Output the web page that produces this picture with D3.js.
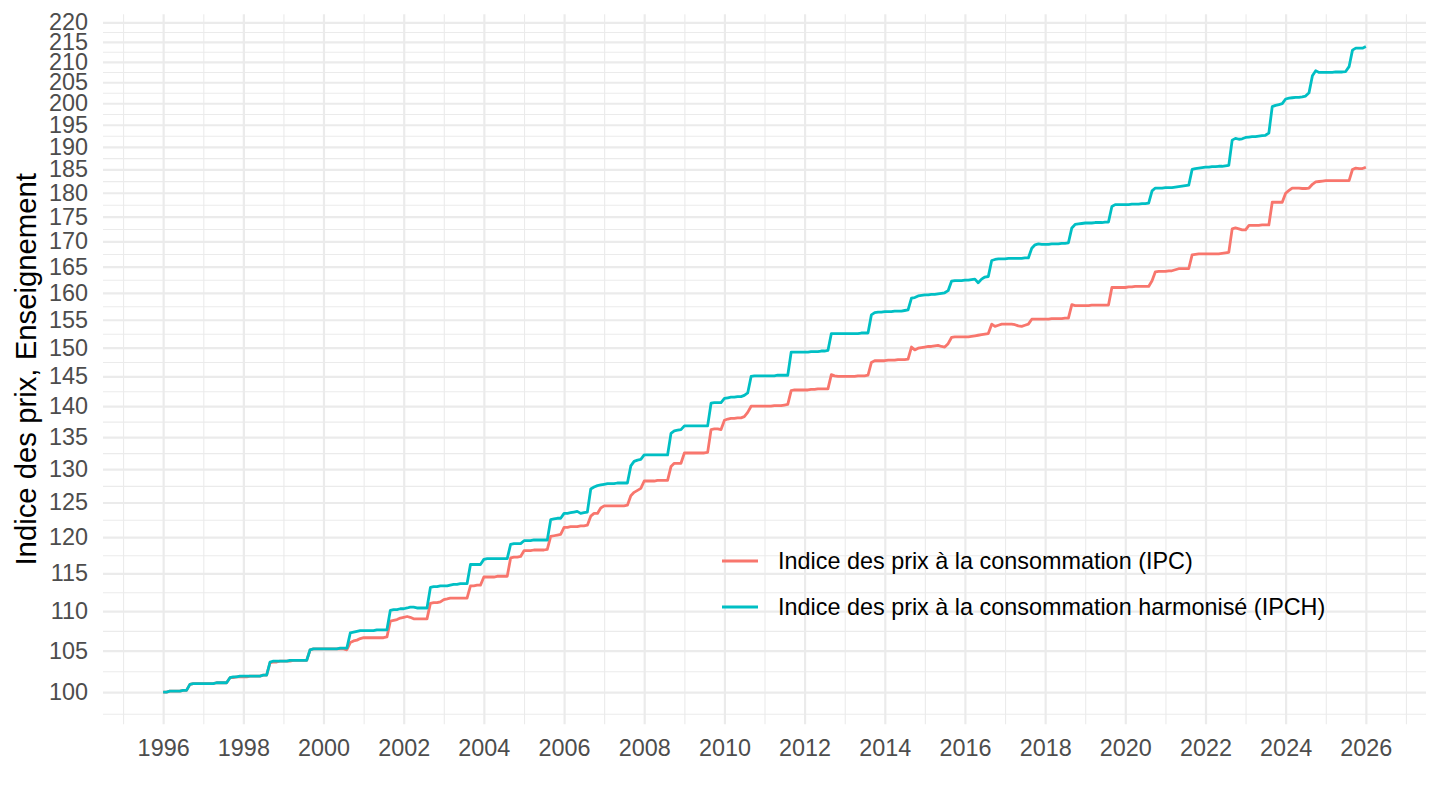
<!DOCTYPE html>
<html>
<head>
<meta charset="utf-8">
<script src="https://cdn.jsdelivr.net/npm/d3@7"></script>
<style>
  html, body { margin: 0; padding: 0; background: #ffffff; }
  svg { display: block; }
  text { font-family: "Liberation Sans", Arial, Helvetica, sans-serif; }
</style>
</head>
<body>
<svg id="chart" width="1440" height="810"></svg>
<script>
// ---------------- DATA ----------------
const startYear = 1996;               // first observation: January 1996 (monthly series)
const seriesNames = [
  "Indice des prix à la consommation (IPC)",
  "Indice des prix à la consommation harmonisé (IPCH)"
];
const seriesColors = ["#F8766D", "#00BFC4"];

// IPC, monthly, Jan 1996 -> Jan 2026 (one row per year)
const ipcValues = [
  100.0, 100.0, 100.1, 100.1, 100.1, 100.1, 100.2, 100.2, 100.9, 101.0, 101.0, 101.0,
  101.0, 101.0, 101.0, 101.0, 101.1, 101.1, 101.1, 101.1, 101.7, 101.7, 101.8, 101.8,
  101.8, 101.8, 101.9, 101.9, 101.9, 101.9, 102.0, 102.0, 103.5, 103.6, 103.6, 103.7,
  103.7, 103.7, 103.7, 103.8, 103.8, 103.8, 103.8, 103.8, 105.1, 105.2, 105.2, 105.2,
  105.2, 105.2, 105.2, 105.2, 105.2, 105.2, 105.2, 105.1, 106.0, 106.2, 106.3, 106.5,
  106.6, 106.6, 106.6, 106.6, 106.6, 106.6, 106.6, 106.7, 108.7, 108.8, 108.9, 109.1,
  109.2, 109.3, 109.2, 109.0, 109.0, 109.0, 109.0, 109.0, 111.0, 111.1, 111.1, 111.2,
  111.5, 111.6, 111.7, 111.7, 111.7, 111.7, 111.7, 111.7, 113.3, 113.3, 113.4, 113.4,
  114.5, 114.5, 114.5, 114.5, 114.6, 114.6, 114.6, 114.6, 117.1, 117.2, 117.2, 117.3,
  118.1, 118.1, 118.1, 118.2, 118.2, 118.2, 118.2, 118.3, 120.1, 120.2, 120.3, 120.4,
  121.4, 121.4, 121.5, 121.5, 121.5, 121.6, 121.6, 121.7, 123.0, 123.4, 123.4, 124.2,
  124.5, 124.5, 124.5, 124.5, 124.5, 124.5, 124.5, 124.6, 126.0, 126.5, 126.8, 127.1,
  128.2, 128.2, 128.2, 128.2, 128.3, 128.3, 128.3, 128.3, 130.4, 130.9, 130.9, 130.9,
  132.5, 132.5, 132.5, 132.5, 132.5, 132.5, 132.5, 132.6, 136.2, 136.3, 136.3, 136.2,
  137.7, 137.9, 138.0, 138.0, 138.1, 138.1, 138.3, 139.0, 140.0, 140.0, 140.0, 140.0,
  140.0, 140.0, 140.0, 140.1, 140.1, 140.1, 140.2, 140.3, 142.6, 142.7, 142.7, 142.7,
  142.7, 142.7, 142.8, 142.8, 142.9, 142.9, 142.9, 142.9, 145.3, 145.1, 145.0, 145.0,
  145.0, 145.0, 145.0, 145.0, 145.1, 145.1, 145.1, 145.2, 147.4, 147.7, 147.7, 147.7,
  147.7, 147.8, 147.8, 147.8, 147.9, 147.9, 147.9, 148.0, 150.1, 149.6, 149.9, 150.0,
  150.1, 150.2, 150.2, 150.3, 150.4, 150.2, 150.1, 150.7, 151.8, 151.9, 151.9, 151.9,
  151.9, 151.9, 152.0, 152.1, 152.2, 152.3, 152.4, 152.5, 154.2, 153.8, 154.0, 154.2,
  154.2, 154.2, 154.2, 154.1, 153.9, 153.8, 154.0, 154.2, 155.1, 155.1, 155.1, 155.1,
  155.1, 155.1, 155.2, 155.2, 155.2, 155.2, 155.3, 155.3, 157.8, 157.6, 157.6, 157.6,
  157.6, 157.6, 157.7, 157.7, 157.7, 157.7, 157.7, 157.7, 161.0, 161.0, 161.0, 161.0,
  161.0, 161.1, 161.1, 161.2, 161.2, 161.2, 161.2, 161.2, 162.3, 164.0, 164.1, 164.1,
  164.1, 164.2, 164.2, 164.4, 164.6, 164.6, 164.6, 164.6, 167.3, 167.4, 167.5, 167.5,
  167.5, 167.5, 167.5, 167.5, 167.5, 167.6, 167.7, 167.8, 172.5, 172.7, 172.5, 172.3,
  172.3, 173.2, 173.2, 173.2, 173.2, 173.3, 173.3, 173.3, 178.0, 178.0, 178.0, 178.0,
  179.9, 180.5, 181.0, 181.0, 181.0, 180.9, 180.9, 181.0, 181.8, 182.3, 182.4, 182.5,
  182.6, 182.6, 182.6, 182.6, 182.6, 182.6, 182.6, 182.6, 185.0, 185.3, 185.2, 185.2,
  185.5
];

// IPCH, monthly, Jan 1996 -> Jan 2026 (one row per year)
const ipchValues = [
  100.0, 100.0, 100.1, 100.1, 100.1, 100.1, 100.2, 100.2, 100.9, 101.0, 101.0, 101.0,
  101.0, 101.0, 101.0, 101.0, 101.1, 101.1, 101.1, 101.1, 101.7, 101.8, 101.8, 101.9,
  101.9, 101.9, 101.9, 101.9, 101.9, 101.9, 102.0, 102.0, 103.6, 103.7, 103.7, 103.7,
  103.7, 103.7, 103.8, 103.8, 103.8, 103.8, 103.8, 103.8, 105.1, 105.2, 105.2, 105.2,
  105.2, 105.2, 105.2, 105.2, 105.2, 105.3, 105.3, 105.3, 107.2, 107.3, 107.4, 107.5,
  107.5, 107.5, 107.5, 107.5, 107.6, 107.6, 107.6, 107.6, 110.1, 110.2, 110.2, 110.3,
  110.3, 110.4, 110.5, 110.5, 110.4, 110.4, 110.4, 110.4, 113.1, 113.2, 113.2, 113.3,
  113.3, 113.3, 113.4, 113.5, 113.5, 113.6, 113.6, 113.6, 116.2, 116.2, 116.2, 116.2,
  116.9, 117.0, 117.0, 117.0, 117.0, 117.0, 117.0, 117.0, 119.0, 119.1, 119.1, 119.1,
  119.5, 119.5, 119.5, 119.6, 119.6, 119.6, 119.6, 119.6, 122.5, 122.6, 122.7, 122.7,
  123.4, 123.4, 123.5, 123.6, 123.7, 123.4, 123.5, 123.6, 127.0, 127.3, 127.5, 127.6,
  127.7, 127.8, 127.8, 127.8, 127.9, 127.9, 127.9, 127.9, 130.5, 131.2, 131.4, 131.5,
  132.2, 132.2, 132.2, 132.2, 132.2, 132.2, 132.2, 132.2, 135.6, 136.0, 136.1, 136.2,
  136.8, 136.8, 136.8, 136.8, 136.8, 136.8, 136.8, 136.8, 140.5, 140.6, 140.6, 140.6,
  141.3, 141.4, 141.5, 141.5, 141.6, 141.6, 141.8, 142.2, 145.0, 145.1, 145.1, 145.1,
  145.1, 145.1, 145.1, 145.1, 145.2, 145.2, 145.2, 145.2, 149.2, 149.2, 149.2, 149.2,
  149.2, 149.2, 149.3, 149.3, 149.3, 149.4, 149.4, 149.5, 152.5, 152.5, 152.5, 152.5,
  152.5, 152.5, 152.5, 152.5, 152.5, 152.6, 152.6, 152.6, 155.9, 156.3, 156.4, 156.4,
  156.5, 156.5, 156.5, 156.6, 156.6, 156.6, 156.7, 156.8, 159.0, 159.1, 159.4, 159.5,
  159.6, 159.6, 159.7, 159.7, 159.8, 159.9, 160.0, 160.4, 162.2, 162.3, 162.3, 162.3,
  162.4, 162.4, 162.5, 162.6, 161.9, 162.6, 163.0, 163.1, 166.2, 166.4, 166.5, 166.5,
  166.5, 166.6, 166.6, 166.6, 166.6, 166.6, 166.7, 166.7, 168.6, 169.3, 169.5, 169.4,
  169.4, 169.4, 169.5, 169.5, 169.5, 169.6, 169.6, 169.7, 172.7, 173.4, 173.5, 173.6,
  173.7, 173.7, 173.7, 173.8, 173.8, 173.8, 173.9, 173.9, 177.1, 177.5, 177.5, 177.5,
  177.5, 177.5, 177.6, 177.6, 177.6, 177.7, 177.7, 177.8, 180.4, 181.0, 181.0, 181.0,
  181.1, 181.1, 181.1, 181.2, 181.3, 181.4, 181.5, 181.6, 185.0, 185.2, 185.3, 185.4,
  185.5, 185.5, 185.6, 185.6, 185.7, 185.7, 185.8, 185.9, 191.5, 191.9, 191.7, 191.8,
  192.1, 192.2, 192.3, 192.3, 192.4, 192.5, 192.6, 193.1, 199.2, 199.5, 199.7, 199.9,
  201.0, 201.2, 201.3, 201.4, 201.4, 201.5, 201.7, 202.5, 206.6, 207.8, 207.4, 207.4,
  207.4, 207.4, 207.4, 207.5, 207.5, 207.5, 207.6, 208.8, 212.9, 213.4, 213.4, 213.4,
  213.8
];

const yTickValues = [100,105,110,115,120,125,130,135,140,145,150,155,160,165,170,175,180,185,190,195,200,205,210,215,220];
const xTickYears = [1996,1998,2000,2002,2004,2006,2008,2010,2012,2014,2016,2018,2020,2022,2024,2026];
const xMinorYears = [1995,1997,1999,2001,2003,2005,2007,2009,2011,2013,2015,2017,2019,2021,2023,2025,2027];
const yAxisTitle = "Indice des prix, Enseignement";

// ---------------- LAYOUT ----------------
const panel = { left: 103, right: 1426, top: 14.3, bottom: 724.3 };
const FONT_TICK = 23.4;
const FONT_TITLE = 29.3;
const GRID = "#EBEBEB";

const svg = d3.select("#chart");
svg.append("rect").attr("width", 1440).attr("height", 810).attr("fill", "#ffffff");

const monthDate = i => new Date(startYear, i, 1);
const series = [ipcValues, ipchValues].map((vals, k) => ({
  name: seriesNames[k],
  color: seriesColors[k],
  points: vals.map((v, i) => ({ date: monthDate(i), value: v }))
}));

// x scale with ggplot-like 5% expansion
const allDates = series[0].points.map(p => p.date);
const t0 = +d3.min(allDates), t1 = +d3.max(allDates);
const padT = (t1 - t0) * 0.05;
const x = d3.scaleTime()
  .domain([new Date(t0 - padT), new Date(t1 + padT)])
  .range([panel.left, panel.right]);

// log y scale with 5% expansion in log space
const allVals = ipcValues.concat(ipchValues);
const vMin = d3.min(allVals), vMax = d3.max(allVals);
const lspan = Math.log(vMax / vMin);
const y = d3.scaleLog()
  .domain([vMin * Math.exp(-0.05 * lspan), vMax * Math.exp(0.05 * lspan)])
  .range([panel.bottom, panel.top]);

const [yLo, yHi] = y.domain();
const yMinorValues = [];
const yExt = [yTickValues[0] - 5].concat(yTickValues, [yTickValues[yTickValues.length - 1] + 5]);
for (let i = 0; i < yExt.length - 1; i++) {
  const m = Math.sqrt(yExt[i] * yExt[i + 1]);
  if (m >= yLo && m <= yHi) yMinorValues.push(m);
}

const panelW = panel.right - panel.left;
const panelH = panel.bottom - panel.top;

function styleGrid(g, width) {
  g.select(".domain").remove();
  g.selectAll(".tick line").attr("stroke", GRID).attr("stroke-width", width);
}

// minor grids
svg.append("g")
  .attr("transform", `translate(${panel.left},0)`)
  .call(d3.axisLeft(y).tickValues(yMinorValues).tickSize(-panelW).tickFormat(""))
  .call(g => styleGrid(g, 1.1));
svg.append("g")
  .attr("transform", `translate(0,${panel.bottom})`)
  .call(d3.axisBottom(x).tickValues(xMinorYears.map(yy => new Date(yy, 0, 1))).tickSize(-panelH).tickFormat(""))
  .call(g => styleGrid(g, 1.1));

// major grids
svg.append("g")
  .attr("transform", `translate(${panel.left},0)`)
  .call(d3.axisLeft(y).tickValues(yTickValues).tickSize(-panelW).tickFormat(""))
  .call(g => styleGrid(g, 2.2));
svg.append("g")
  .attr("transform", `translate(0,${panel.bottom})`)
  .call(d3.axisBottom(x).tickValues(xTickYears.map(yy => new Date(yy, 0, 1))).tickSize(-panelH).tickFormat(""))
  .call(g => styleGrid(g, 2.2));

// lines
const line = d3.line().x(d => x(d.date)).y(d => y(d.value));
svg.append("g").selectAll("path")
  .data(series)
  .join("path")
  .attr("d", d => line(d.points))
  .attr("fill", "none")
  .attr("stroke", d => d.color)
  .attr("stroke-width", 2.8)
  .attr("stroke-linejoin", "round")
  .attr("stroke-linecap", "butt");

// axis labels
const yAxisG = svg.append("g")
  .attr("transform", `translate(${panel.left},0)`)
  .call(d3.axisLeft(y).tickValues(yTickValues).tickSize(0).tickPadding(15).tickFormat(d3.format("d")));
yAxisG.select(".domain").remove();
yAxisG.selectAll("text").attr("font-size", FONT_TICK).attr("fill", "#4D4D4D")
  .attr("font-family", "'Liberation Sans', Arial, sans-serif");

const xAxisG = svg.append("g")
  .attr("transform", `translate(0,${panel.bottom})`)
  .call(d3.axisBottom(x).tickValues(xTickYears.map(yy => new Date(yy, 0, 1))).tickSize(0).tickPadding(15).tickFormat(d3.timeFormat("%Y")));
xAxisG.select(".domain").remove();
xAxisG.selectAll("text").attr("font-size", FONT_TICK).attr("fill", "#4D4D4D")
  .attr("font-family", "'Liberation Sans', Arial, sans-serif");

// y axis title
svg.append("text")
  .attr("transform", `translate(36,${(panel.top + panel.bottom) / 2}) rotate(-90)`)
  .attr("text-anchor", "middle")
  .attr("font-size", FONT_TITLE)
  .attr("fill", "#000000")
  .text(yAxisTitle);

// legend
const legend = svg.append("g").attr("transform", "translate(722,561)");
const items = legend.selectAll("g").data(series).join("g")
  .attr("transform", (d, i) => `translate(0,${i * 46})`);
items.append("line")
  .attr("x1", 0).attr("x2", 36).attr("y1", 0).attr("y2", 0)
  .attr("stroke", d => d.color).attr("stroke-width", 2.8);
items.append("text")
  .attr("x", 56).attr("y", 0).attr("dy", "0.35em")
  .attr("font-size", FONT_TICK)
  .attr("fill", "#000000")
  .text(d => d.name);
</script>
</body>
</html>
